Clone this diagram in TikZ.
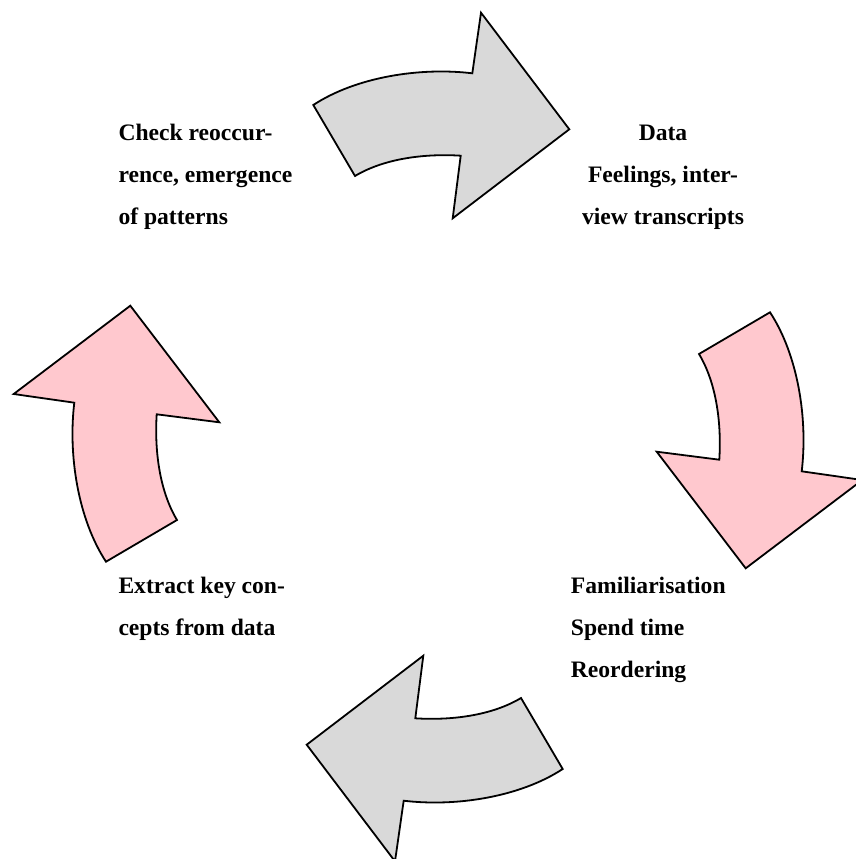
\documentclass[tikz,border=0pt]{standalone}
\usepackage{fontspec}
\setmainfont{Liberation Serif}
\definecolor{arrowgray}{RGB}{217,217,217}
\definecolor{arrowpink}{RGB}{255,200,206}
\newcommand\cyclearrowpath{(313.3,105) .. controls (356,77) and (420,67) .. (472.3,73.3) -- (481,12.7) -- (569.3,129.3) -- (452.7,218.3) -- (460.7,155.7) .. controls (426,153.5) and (385,158) .. (355,176) -- cycle}
\tikzset{
  cycgray/.style={draw=black, line width=1.8pt, line join=miter, fill=arrowgray},
  cycpink/.style={draw=black, line width=1.8pt, line join=miter, fill=arrowpink},
  lbl/.style={font=\fontsize{23.6}{42}\selectfont\bfseries, inner sep=0pt, anchor=base west},
  lblc/.style={lbl, anchor=base},
}
\begin{document}
\begin{tikzpicture}[x=1pt,y=-1pt]
\useasboundingbox (0,0) rectangle (855,859);
% four curved arrows, one shape rotated about the centre
\draw[cycgray] \cyclearrowpath;
\draw[cycpink, rotate around={-90:(438,437)}] \cyclearrowpath;
\draw[cycgray, rotate around={180:(438,437)}] \cyclearrowpath;
\draw[cycpink, rotate around={90:(438,437)}] \cyclearrowpath;
% labels
\node[lbl] (chk1) at (118.3,140.5) {Check reoccur-};
\node[lbl] (chk2) at (118.3,182.5) {rence, emergence};
\node[lbl] (chk3) at (118.3,224.5) {of patterns};
\node[lblc] (dat1) at (663,140.5) {Data};
\node[lblc] (dat2) at (663,182.5) {Feelings, inter-};
\node[lblc] (dat3) at (663,224.5) {view transcripts};
\node[lbl] (ext1) at (118.3,593) {Extract key con-};
\node[lbl] (ext2) at (118.3,635) {cepts from data};
\node[lbl] (fam1) at (570.7,593) {Familiarisation};
\node[lbl] (fam2) at (570.7,635) {Spend time};
\node[lbl] (fam3) at (570.7,677) {Reordering};
\end{tikzpicture}
\end{document}
